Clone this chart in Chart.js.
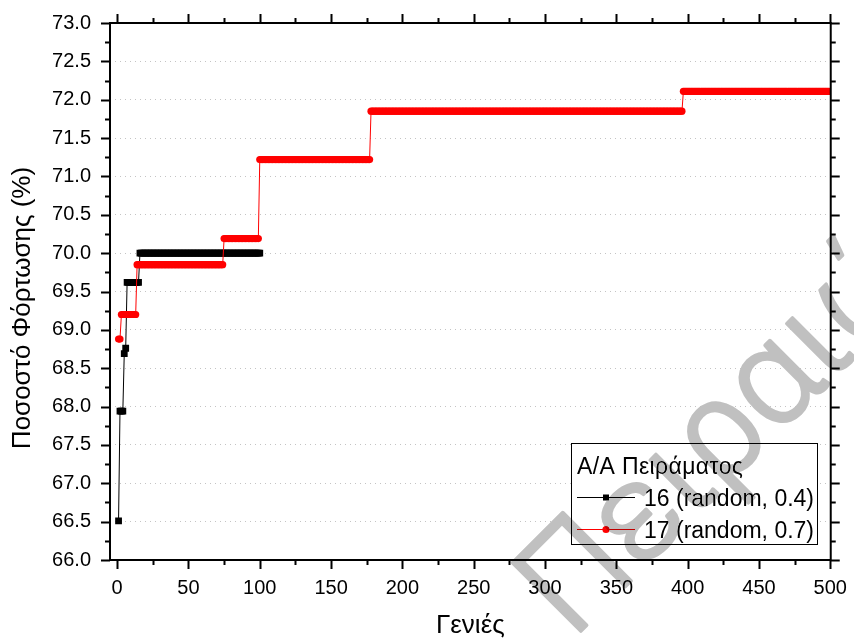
<!DOCTYPE html>
<html>
<head>
<meta charset="utf-8">
<script src="https://cdn.jsdelivr.net/npm/chart.js@4"></script>
<style>
html, body { margin: 0; padding: 0; background: #fff; }
</style>
</head>
<body>
<canvas id="grafico" width="854" height="641"></canvas>
<script>
// Dados: cada série é uma escada (geração inicial de cada degrau e valor)
const degrausA = [1, 2, 5, 6, 7, 16];
const valoresA = [66.51, 67.94, 68.69, 68.76, 69.62, 70.00];
const fimA = 100;

const degrausB = [1, 3, 14, 75, 100, 178, 397];
const valoresB = [68.88, 69.20, 69.85, 70.19, 71.22, 71.85, 72.11];
const fimB = 500;

const nomesSeries = ['16 (random, 0.4)', '17 (random, 0.7)'];
const tituloLegenda = 'A/A Πειράματος';
const tituloX = 'Γενιές';
const tituloY = 'Ποσοστό Φόρτωσης (%)';
const marcaDagua = 'Πειραιώς';

const fonte = "'Liberation Sans', Arial, sans-serif";

// Converte os degraus em um ponto por geração
function expandir(inicios, valores, fim) {
    const pts = [];
    for (let i = 0; i < inicios.length; i++) {
        const ate = i + 1 < inicios.length ? inicios[i + 1] - 1 : fim;
        for (let g = inicios[i]; g <= ate; g++) pts.push({ x: g, y: valores[i] });
    }
    return pts;
}

// Moldura, ticks (maiores e menores), título Y, legenda e marca d'água
const extras = {
    id: 'extras',
    afterDraw(chart) {
        const c = chart.ctx;
        const a = chart.chartArea;
        const sx = chart.scales.x, sy = chart.scales.y;
        c.save();
        c.strokeStyle = '#000';
        c.lineWidth = 2;
        c.strokeRect(a.left, a.top, a.right - a.left, a.bottom - a.top);

        c.beginPath();
        for (let v = 0; v <= 500; v += 25) {
            const x = Math.round(sx.getPixelForValue(v)) + 0.5;
            const len = v % 50 === 0 ? 9 : 5;
            c.moveTo(x, a.bottom); c.lineTo(x, a.bottom + len);
            c.moveTo(x, a.top); c.lineTo(x, a.top - len);
        }
        for (let k = 0; k <= 28; k++) {
            const v = 66 + k * 0.25;
            const y = Math.round(sy.getPixelForValue(v)) + 0.5;
            const len = k % 2 === 0 ? 9 : 5;
            c.moveTo(a.left, y); c.lineTo(a.left - len, y);
            c.moveTo(a.right, y); c.lineTo(a.right + len, y);
        }
        c.stroke();

        // Título do eixo Y
        c.save();
        c.translate(23, 308);
        c.rotate(-Math.PI / 2);
        c.fillStyle = '#000';
        c.font = '26px ' + fonte;
        c.textAlign = 'center';
        c.textBaseline = 'middle';
        c.fillText(tituloY, 0, 0);
        c.restore();

        // Legenda
        const lx = 571.5, ly = 443.5, lw = 246, lh = 101;
        c.fillStyle = '#fff';
        c.fillRect(lx, ly, lw, lh);
        c.lineWidth = 1;
        c.strokeStyle = '#000';
        c.strokeRect(lx, ly, lw, lh);
        c.fillStyle = '#000';
        c.font = '23px ' + fonte;
        c.textBaseline = 'alphabetic';
        c.textAlign = 'left';
        const wt = c.measureText(tituloLegenda).width;
        c.letterSpacing = Math.max(0, (166 - wt) / (tituloLegenda.length - 1)).toFixed(2) + 'px';
        c.fillText(tituloLegenda, 577, 474);
        c.letterSpacing = '0px';
        const cores = ['#000000', '#ff0000'];
        const linhas = [497, 529];
        const bases = [506, 537.5];
        linhas.forEach((yy, i) => {
            c.strokeStyle = cores[i];
            c.lineWidth = 1;
            c.beginPath();
            c.moveTo(577, yy + 0.5); c.lineTo(635, yy + 0.5);
            c.stroke();
            c.fillStyle = cores[i];
            if (i === 0) c.fillRect(603, yy - 2.5, 6, 6);
            else { c.beginPath(); c.arc(606, yy + 0.5, 3.6, 0, Math.PI * 2); c.fill(); }
            c.fillStyle = '#000';
            c.fillText(nomesSeries[i], 644, bases[i]);
        });

        // Marca d'água
        c.globalCompositeOperation = 'darken';
        c.translate(572, 640);
        c.rotate(-Math.PI / 4);
        c.fillStyle = '#c0c0c0';
        c.strokeStyle = '#c0c0c0';
        c.lineWidth = 3.5;
        c.lineJoin = 'round';
        c.font = "300 136px Roboto, 'Open Sans', sans-serif";
        c.fillText(marcaDagua, 0, 0);
        c.strokeText(marcaDagua, 0, 0);
        c.restore();
    }
};

const ctx = document.getElementById('grafico').getContext('2d');

const grafico = new Chart(ctx, {
    type: 'line',
    data: {
        datasets: [
            {
                label: nomesSeries[1],
                data: expandir(degrausB, valoresB, fimB),
                borderColor: '#ff0000',
                backgroundColor: '#ff0000',
                borderWidth: 1,
                pointStyle: 'circle',
                pointRadius: 3.6,
                pointBorderWidth: 0,
                order: 0
            },
            {
                label: nomesSeries[0],
                data: expandir(degrausA, valoresA, fimA),
                borderColor: '#000000',
                backgroundColor: '#000000',
                borderWidth: 1,
                pointStyle: 'rect',
                pointRadius: 4.8,
                pointBorderWidth: 0,
                order: 1
            }
        ]
    },
    options: {
        responsive: false,
        animation: false,
        layout: { padding: { top: 23, right: 19, left: 0, bottom: 0 } },
        plugins: { legend: { display: false }, tooltip: { enabled: false } },
        scales: {
            x: {
                type: 'linear',
                min: -5,
                max: 500.3,
                afterFit: s => { s.height = 81; },
                afterBuildTicks: s => { s.ticks = [0, 50, 100, 150, 200, 250, 300, 350, 400, 450, 500].map(v => ({ value: v })); },
                border: { display: false },
                grid: { drawOnChartArea: false, drawTicks: true, tickLength: 9, tickColor: 'rgba(0,0,0,0)' },
                ticks: { color: '#000', font: { family: fonte, size: 20 }, padding: 7, maxRotation: 0, autoSkip: false },
                title: { display: true, text: tituloX, color: '#000', font: { family: fonte, size: 26 }, padding: 0 }
            },
            y: {
                min: 66,
                max: 73,
                afterFit: s => { s.width = 110; },
                border: { display: false, dash: [1, 4] },
                grid: { color: '#c4c4c4', lineWidth: 1, drawTicks: true, tickLength: 9, tickColor: 'rgba(0,0,0,0)' },
                ticks: { stepSize: 0.5, color: '#000', font: { family: fonte, size: 20 }, padding: 10, callback: v => v.toFixed(1) },
                title: { display: false }
            }
        }
    },
    plugins: [extras]
});
</script>
</body>
</html>
